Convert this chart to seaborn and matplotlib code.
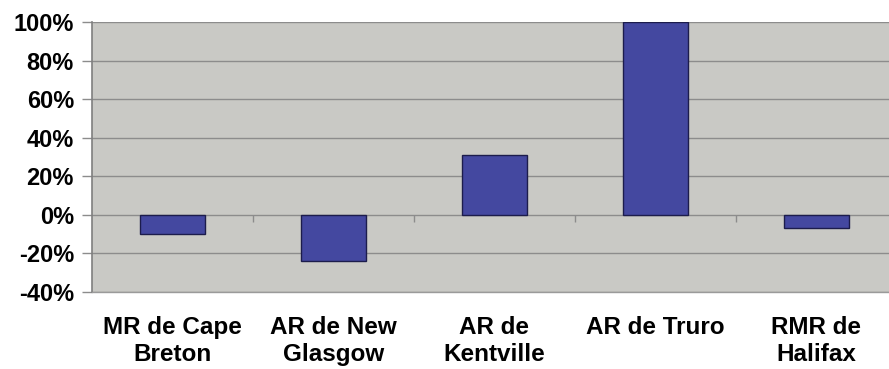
import matplotlib
matplotlib.use("Agg")
import matplotlib.pyplot as plt
import seaborn as sns
import pandas as pd
from matplotlib.ticker import PercentFormatter, MultipleLocator

# Change by region
regions = ["MR de Cape\nBreton", "AR de New\nGlasgow", "AR de\nKentville", "AR de Truro", "RMR de\nHalifax"]
change = [-0.10, -0.24, 0.31, 1.00, -0.07]

sns.set_theme(style="white")
plt.rcParams["font.family"] = ["Liberation Sans", "DejaVu Sans"]
plt.rcParams["axes.unicode_minus"] = False

fig = plt.figure(figsize=(8.89, 3.69), dpi=100)
ax = fig.add_axes([92 / 889, (369 - 292) / 369, (896.5 - 92) / 889, (292 - 22) / 369])

df = pd.DataFrame({"region": regions, "change": change})
sns.barplot(data=df, x="region", y="change", color="#4448A0", width=0.404,
            edgecolor="#1c1c4c", linewidth=1.0, saturation=1, ax=ax)

ax.set_facecolor("#C9C9C5")
ax.set_ylim(-0.4, 1.0)
ax.set_xlim(-0.5, len(regions) - 0.5)
ax.yaxis.set_major_locator(MultipleLocator(0.2))
ax.yaxis.set_major_formatter(PercentFormatter(1.0, decimals=0))
ax.grid(axis="y", color="#8c8c8c", linewidth=1.0)
ax.set_axisbelow(True)

# category separators on the zero line
ax.vlines([i + 0.5 for i in range(len(regions) - 1)], 0, -0.035,
          color="#8c8c8c", linewidth=1.0, zorder=1)

for s in ["top", "right"]:
    ax.spines[s].set_visible(False)
ax.spines["left"].set_color("#7f7f7f")
ax.spines["left"].set_linewidth(1.2)
ax.spines["bottom"].set_color("#9a9a9a")
ax.spines["bottom"].set_linewidth(1.0)

ax.tick_params(axis="y", left=True, length=7, width=1, color="#8c8c8c",
               pad=6, labelsize=17, labelcolor="black")
ax.tick_params(axis="x", bottom=False, length=0, pad=17, labelsize=17.5, labelcolor="black")
for lbl in ax.get_yticklabels() + ax.get_xticklabels():
    lbl.set_fontweight("bold")
for lbl in ax.get_xticklabels():
    lbl.set_linespacing(1.25)

ax.set_xlabel("")
ax.set_ylabel("")

fig.savefig("out.png", dpi=100, facecolor="white")
